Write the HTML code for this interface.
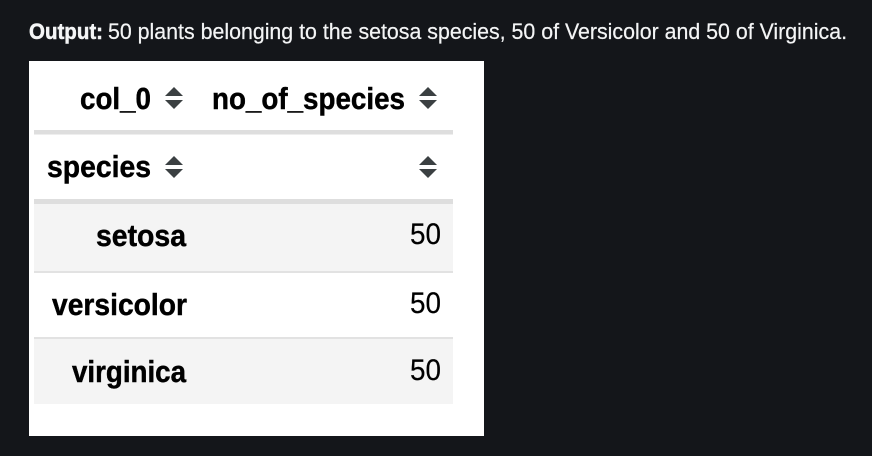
<!DOCTYPE html>
<html lang="en">
<head>
<meta charset="utf-8">
<title>Species count table</title>
<style>
html,body{margin:0;padding:0;background:#14161a;width:872px;height:456px;overflow:hidden}
svg{display:block}
.cap{font-family:"Liberation Sans",sans-serif;font-size:22.5px;fill:#f4f5f6;stroke:#f4f5f6;stroke-width:.2px}
.b{font-family:"Liberation Sans",sans-serif;font-weight:bold;font-size:30.5px;fill:#000;stroke:#000;stroke-width:.45px}
.n{font-family:"Liberation Sans",sans-serif;font-size:30px;fill:#000;stroke:#000;stroke-width:.2px}
</style>
</head>
<body>
<svg width="872" height="456" viewBox="0 0 872 456" xmlns="http://www.w3.org/2000/svg">
<defs><filter id="soft" x="-2%" y="-2%" width="104%" height="104%"><feGaussianBlur stdDeviation="0.3"/></filter></defs>
<rect width="872" height="456" fill="#14161a"/>
<g>
<text class="cap" x="29" y="39" textLength="74" lengthAdjust="spacingAndGlyphs" style="font-weight:bold;stroke-width:.5px">Output:</text>
<text class="cap" x="108" y="39" textLength="739" lengthAdjust="spacingAndGlyphs">50 plants belonging to the setosa species, 50 of Versicolor and 50 of Virginica.</text>
</g>
<rect x="29" y="61" width="455" height="375" fill="#fff"/>
<g filter="url(#soft)">
<rect x="34" y="204" width="419" height="67" fill="#f4f4f4"/>
<rect x="34" y="339" width="419" height="65" fill="#f4f4f4"/>
<rect x="34" y="130" width="419" height="4.5" fill="#dedede"/>
<rect x="34" y="199" width="419" height="5" fill="#dedede"/>
<rect x="34" y="271" width="419" height="2" fill="#e2e2e2"/>
<rect x="34" y="337" width="419" height="2" fill="#e2e2e2"/>

<text class="b" x="80" y="109" textLength="71" lengthAdjust="spacingAndGlyphs">col_0</text>
<text class="b" x="212" y="109" textLength="193" lengthAdjust="spacingAndGlyphs">no_of_species</text>
<text class="b" x="47" y="177" textLength="104" lengthAdjust="spacingAndGlyphs">species</text>

<g fill="#3a3f43">
<g><polygon points="174,87 183,96 165,96"/><polygon points="165,100 183,100 174,109"/></g>
<g><polygon points="428,87 437,96 419,96"/><polygon points="419,100 437,100 428,109"/></g>
<g><polygon points="174,156 183,165 165,165"/><polygon points="165,169 183,169 174,178"/></g>
<g><polygon points="428,156 437,165 419,165"/><polygon points="419,169 437,169 428,178"/></g>
</g>

<text class="b" x="186" y="246" text-anchor="end" textLength="90" lengthAdjust="spacingAndGlyphs">setosa</text>
<text class="b" x="187" y="315" text-anchor="end" textLength="135" lengthAdjust="spacingAndGlyphs">versicolor</text>
<text class="b" x="186" y="382" text-anchor="end" textLength="114" lengthAdjust="spacingAndGlyphs">virginica</text>

<text class="n" x="441" y="244" text-anchor="end" textLength="31" lengthAdjust="spacingAndGlyphs">50</text>
<text class="n" x="441" y="313" text-anchor="end" textLength="31" lengthAdjust="spacingAndGlyphs">50</text>
<text class="n" x="441" y="380" text-anchor="end" textLength="31" lengthAdjust="spacingAndGlyphs">50</text>
</g>
</svg>
</body>
</html>
